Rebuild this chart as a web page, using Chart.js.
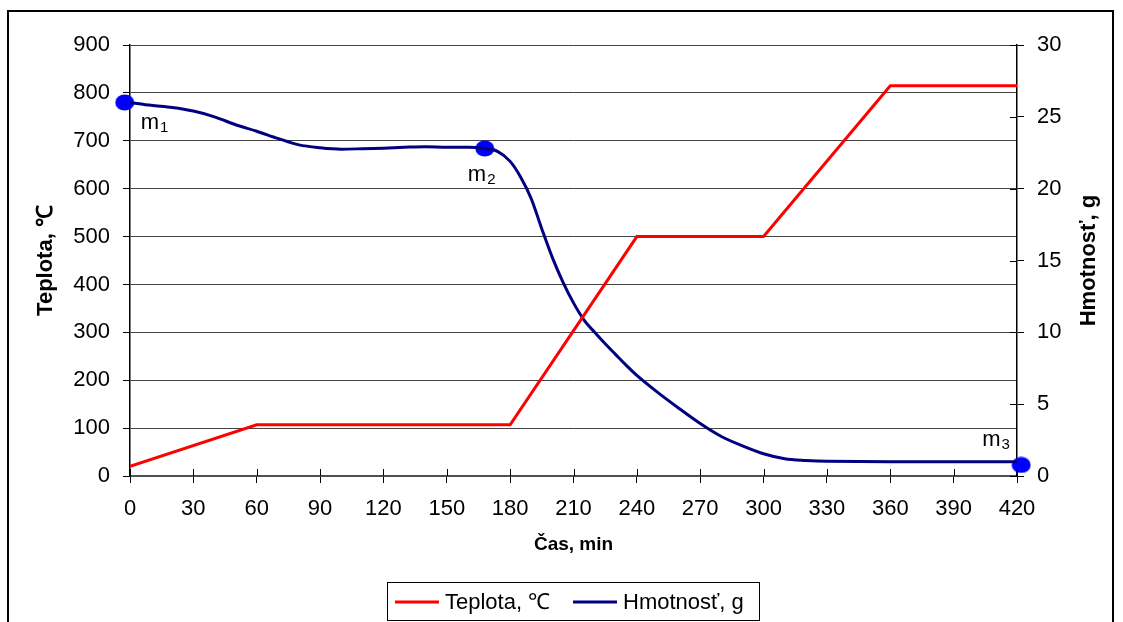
<!DOCTYPE html>
<html>
<head>
<meta charset="utf-8">
<script src="https://cdn.jsdelivr.net/npm/chart.js@4/dist/chart.umd.min.js"></script>
<style>
  html, body { margin: 0; padding: 0; background: #fff; }
  canvas { display: block; }
</style>
</head>
<body>
<canvas id="c" width="1123" height="622"></canvas>
<script>
// ---- data ----
const xTicksMin = [0, 30, 60, 90, 120, 150, 180, 210, 240, 270, 300, 330, 360, 390, 420];
const teplotaTime = [0, 60, 180, 240, 300, 360, 420];
const teplotaC = [20, 107, 107, 500, 500, 815, 815];
const massTime = [0, 10, 20, 30, 40, 50, 60, 70, 80, 90, 100, 110, 120, 130, 140, 150, 160, 168, 174, 180, 185, 190, 195, 200, 205, 210, 215, 220, 225, 230, 235, 240, 250, 260, 270, 280, 290, 300, 310, 320, 330, 360, 390, 420];
const massG = [26.0, 25.8, 25.65, 25.4, 25.0, 24.45, 24.0, 23.5, 23.05, 22.85, 22.75, 22.78, 22.82, 22.88, 22.92, 22.88, 22.88, 22.8, 22.6, 21.9, 20.8, 19.3, 17.2, 15.2, 13.5, 12.05, 10.85, 10.0, 9.2, 8.45, 7.7, 7.0, 5.8, 4.7, 3.65, 2.75, 2.1, 1.55, 1.2, 1.08, 1.02, 1.0, 1.0, 1.0];
const markerTime = [-2.5, 168, 422];
const markerG = [26.0, 22.8, 0.77];
const markerSub = ['1', '2', '3'];
const seriesNames = ['Teplota, ℃', 'Hmotnosť, g'];
const axisTitles = { x: 'Čas, min', y: 'Teplota, ℃', y1: 'Hmotnosť, g' };

const FONT = "'Liberation Sans', Arial, sans-serif";
const RED = '#FF0000', NAVY = '#000080', BLUE = '#0000FF';

// ellipse marker
const dot = document.createElement('canvas');
dot.width = 20; dot.height = 17;
(function () {
  const c = dot.getContext('2d');
  c.fillStyle = BLUE;
  c.beginPath(); c.ellipse(10, 8.5, 9.5, 8, 0, 0, Math.PI * 2); c.fill();
})();

const labelOffsets = [[16, 27], [-17, 33], [-39, -19]];

const deco = {
  id: 'deco',
  beforeDraw(chart) {
    const ctx = chart.ctx;
    ctx.save(); ctx.fillStyle = '#fff'; ctx.fillRect(0, 0, chart.width, chart.height); ctx.restore();
  },
  afterDraw(chart) {
    const ctx = chart.ctx;
    const { x, y, y1 } = chart.scales;
    const ca = chart.chartArea;
    ctx.save();
    // outer frame
    ctx.strokeStyle = '#000'; ctx.lineWidth = 2;
    ctx.strokeRect(8, 11, 1105, 700);
    // inner halves of crossing ticks
    ctx.lineWidth = 1; ctx.strokeStyle = '#000';
    xTicksMin.forEach(t => {
      const px = Math.round(x.getPixelForValue(t)) + 0.5;
      ctx.beginPath(); ctx.moveTo(px, ca.bottom - 7); ctx.lineTo(px, ca.bottom); ctx.stroke();
    });
    for (let v = 0; v <= 30; v += 5) {
      const py = Math.round(y1.getPixelForValue(v)) + 0.5;
      ctx.beginPath(); ctx.moveTo(ca.right - 7, py); ctx.lineTo(ca.right, py); ctx.stroke();
    }
    // right axis title, rotated reading upward
    ctx.fillStyle = '#000';
    ctx.font = 'bold 22px ' + FONT;
    ctx.textAlign = 'center'; ctx.textBaseline = 'middle';
    ctx.translate(1089, (ca.top + ca.bottom) / 2);
    ctx.rotate(-Math.PI / 2);
    ctx.fillText(axisTitles.y1, 0, 0);
    ctx.setTransform(1, 0, 0, 1, 0, 0);
    // marker labels m1, m2, m3
    ctx.textAlign = 'left'; ctx.textBaseline = 'alphabetic';
    markerTime.forEach((t, i) => {
      const px = x.getPixelForValue(t) + labelOffsets[i][0];
      const py = y1.getPixelForValue(markerG[i]) + labelOffsets[i][1];
      ctx.font = '22px ' + FONT;
      ctx.fillText('m', px, py);
      const w = ctx.measureText('m').width;
      ctx.font = '15px ' + FONT;
      ctx.fillText(markerSub[i], px + w + 1, py + 3);
    });
    // legend
    const lx = 387, ly = 582, lw = 372, lh = 38;
    ctx.strokeStyle = '#000'; ctx.lineWidth = 1;
    ctx.strokeRect(lx + 0.5, ly + 0.5, lw, lh);
    const midY = ly + lh / 2 + 1;
    ctx.lineWidth = 3;
    ctx.strokeStyle = RED;
    ctx.beginPath(); ctx.moveTo(395, midY); ctx.lineTo(439, midY); ctx.stroke();
    ctx.strokeStyle = NAVY;
    ctx.beginPath(); ctx.moveTo(573, midY); ctx.lineTo(617, midY); ctx.stroke();
    ctx.font = '22px ' + FONT; ctx.fillStyle = '#000'; ctx.textBaseline = 'middle';
    ctx.fillText(seriesNames[0], 445, midY + 1);
    ctx.fillText(seriesNames[1], 623, midY + 1);
    ctx.restore();
  }
};

new Chart(document.getElementById('c'), {
  type: 'line',
  data: {
    datasets: [
      {
        label: seriesNames[0],
        data: teplotaTime.map((t, i) => ({ x: t, y: teplotaC[i] })),
        borderColor: RED, borderWidth: 3, pointRadius: 0, tension: 0,
        yAxisID: 'y'
      },
      {
        label: seriesNames[1],
        data: massTime.map((t, i) => ({ x: t, y: massG[i] })),
        borderColor: NAVY, borderWidth: 3, pointRadius: 0,
        cubicInterpolationMode: 'monotone',
        yAxisID: 'y1'
      },
      {
        label: 'markers',
        data: markerTime.map((t, i) => ({ x: t, y: markerG[i] })),
        showLine: false, pointStyle: dot, pointRadius: 10,
        borderColor: BLUE, backgroundColor: BLUE,
        yAxisID: 'y1', clip: false
      }
    ]
  },
  options: {
    responsive: false,
    animation: false,
    events: [],
    layout: { padding: { left: 0, right: 0, top: 45, bottom: 56 } },
    plugins: { legend: { display: false }, tooltip: { enabled: false } },
    scales: {
      x: {
        type: 'linear', min: 0, max: 420,
        afterBuildTicks: s => { s.ticks = xTicksMin.map(v => ({ value: v })); },
        afterFit: s => { s.height = 90; },
        grid: { drawOnChartArea: false, tickLength: 7, color: '#000' },
        border: { color: '#505050', width: 2 },
        ticks: { padding: 13, color: '#000', font: { family: FONT, size: 22 }, maxRotation: 0, autoSkip: false },
        title: { display: true, text: axisTitles.x, color: '#000', font: { family: FONT, size: 19, weight: 'bold' }, padding: { top: 0, bottom: 10 } }
      },
      y: {
        position: 'left', min: 0, max: 900,
        ticks: { stepSize: 100, padding: 13, color: '#000', font: { family: FONT, size: 22 } },
        afterFit: s => { s.width = 130; },
        grid: { color: '#444', lineWidth: 1, tickLength: 7, tickColor: '#000' },
        border: { color: '#000', width: 1.5 },
        title: { display: true, text: axisTitles.y, color: '#000', font: { family: FONT, size: 22, weight: 'bold' }, padding: { top: 33, bottom: 0 } }
      },
      y1: {
        position: 'right', min: 0, max: 30,
        ticks: { stepSize: 5, padding: 13, color: '#000', font: { family: FONT, size: 22 } },
        afterFit: s => { s.width = 106; },
        grid: { drawOnChartArea: false, tickLength: 7, color: '#000' },
        border: { color: '#000', width: 1.5 }
      }
    }
  },
  plugins: [deco]
});
</script>
</body>
</html>
